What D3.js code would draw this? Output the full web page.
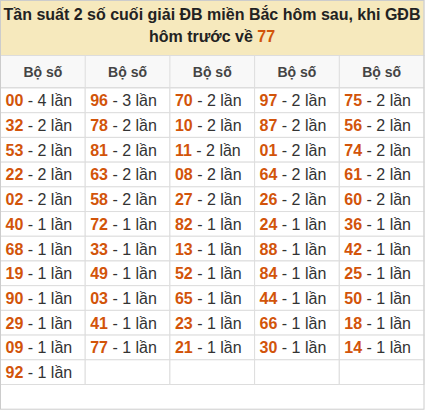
<!DOCTYPE html><html><head><meta charset="utf-8"><script src="https://d3js.org/d3.v7.min.js"></script>
<style>body{margin:0;background:#fff}</style></head><body><svg id="c" width="425" height="412"></svg>
<script>
const titleLine1 = "Tần suất 2 số cuối giải ĐB miền Bắc hôm sau, khi GĐB";
const titleLine2 = "hôm trước về ";
const titleNum = "77";
const headers = ["Bộ số","Bộ số","Bộ số","Bộ số","Bộ số"];
const numbers = [
 ["00","32","53","22","02","40","68","19","90","29","09","92"],
 ["96","78","81","63","58","72","33","49","03","41","77"],
 ["70","10","11","08","27","82","13","52","65","23","21"],
 ["97","87","01","64","26","24","88","84","44","66","30"],
 ["75","56","74","61","60","36","42","25","50","18","14"]];
const counts = [
 [4,2,2,2,2,1,1,1,1,1,1,1],
 [3,2,2,2,2,1,1,1,1,1,1],
 [2,2,2,2,2,1,1,1,1,1,1],
 [2,2,2,2,2,1,1,1,1,1,1],
 [2,2,2,2,2,1,1,1,1,1,1]];
const svg=d3.select("#c");
const W=424, nRows=13;
const x=d3.scaleBand().domain(d3.range(5)).range([0.5,W]);
const y=d3.scaleLinear().domain([0,12]).range([88,384.5]);
const rh=y(1)-y(0);
const font="Liberation Sans, Arial, sans-serif";
svg.append("rect").attr("x",0.5).attr("y",0.5).attr("width",W-0.5).attr("height",55).attr("fill","#f6e9bd").attr("stroke","#ddd");
svg.append("rect").attr("x",0.5).attr("y",55.5).attr("width",W-0.5).attr("height",32).attr("fill","#f8f8f8").attr("stroke","#ddd");
svg.append("text").attr("x",W/2).attr("y",20).attr("text-anchor","middle").attr("font-family",font).attr("font-weight","bold").attr("font-size",16).attr("fill","#222").text(titleLine1);
const t2=svg.append("text").attr("x",W/2).attr("y",42).attr("text-anchor","middle").attr("font-family",font).attr("font-weight","bold").attr("font-size",16).attr("fill","#222");
t2.append("tspan").text(titleLine2);t2.append("tspan").attr("fill","#d2540a").text(titleNum);
headers.forEach((h,i)=>svg.append("text").attr("x",x(i)+x.bandwidth()/2).attr("y",77).attr("text-anchor","middle").attr("font-family",font).attr("font-weight","bold").attr("font-size",14).attr("fill","#444").text(h));
for(let r=0;r<nRows-1;r++)for(let c=0;c<5;c++){
 svg.append("rect").attr("x",x(c)).attr("y",y(r)).attr("width",x.bandwidth()).attr("height",rh).attr("fill","#fff").attr("stroke","#ddd");
 if(r<numbers[c].length){
  const t=svg.append("text").attr("x",x(c)+5).attr("y",y(r)+rh/2+6).attr("font-family",font).attr("font-size",16).attr("fill","#333");
  t.append("tspan").attr("font-weight","bold").attr("fill","#d2540a").text(numbers[c][r]);
  t.append("tspan").text(" - "+counts[c][r]+" lần");
 }
}
for(let c=1;c<5;c++) svg.append("line").attr("x1",x(c)).attr("x2",x(c)).attr("y1",55.5).attr("y2",87.5).attr("stroke","#ddd");
svg.append("rect").attr("x",0.5).attr("y",0.5).attr("width",W-0.5).attr("height",y(12)-0.5+rh).attr("fill","none").attr("stroke","#ccc");
</script></body></html>
